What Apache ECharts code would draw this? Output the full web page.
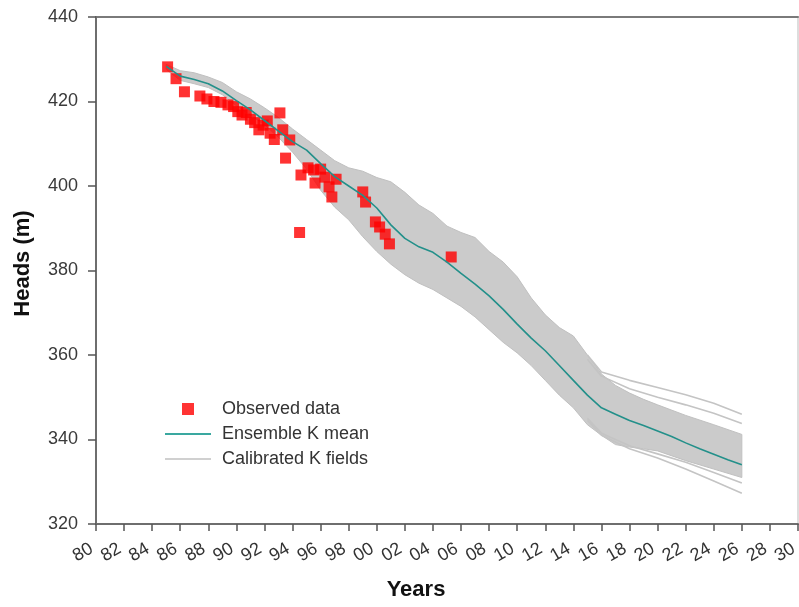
<!DOCTYPE html>
<html>
<head>
<meta charset="utf-8">
<title>Heads</title>
<script src="https://cdn.jsdelivr.net/npm/echarts@6/dist/echarts.min.js"></script>
<style>
  html, body { margin: 0; padding: 0; background: #fff; }
  #chart { width: 799px; height: 607px; }
</style>
</head>
<body>
<div id="chart"></div>
<script>
// x tick labels, 1980..2030 every 2 years
const xTickLabels = ["80", "82", "84", "86", "88", "90", "92", "94", "96", "98", "00", "02", "04",
  "06", "08", "10", "12", "14", "16", "18", "20", "22", "24", "26", "28", "30"];

// observed heads (red squares)
const obsYears = [1985.1, 1985.7, 1986.3, 1987.4, 1987.9, 1988.4, 1988.9, 1989.4, 1989.8, 1990.1,
  1990.4, 1990.7, 1991.0, 1991.3, 1991.6, 1991.9, 1992.2, 1992.4, 1992.7, 1993.1,
  1993.3, 1993.5, 1993.8, 1994.6, 1994.5, 1995.1, 1995.5, 1995.6, 1996.0, 1996.3,
  1996.6, 1996.8, 1997.1, 1999.0, 1999.2, 1999.9, 2000.2, 2000.6, 2000.9, 2005.3];
const obsHeads = [428.2, 425.4, 422.3, 421.3, 420.6, 420.0, 419.8, 419.2, 418.8, 417.6,
  416.8, 417.4, 415.8, 415.0, 413.3, 414.4, 415.4, 412.5, 411.0, 417.3,
  413.3, 406.6, 410.9, 402.6, 389.0, 404.3, 403.8, 400.7, 404.0, 402.1,
  399.8, 397.4, 401.6, 398.6, 396.2, 391.5, 390.3, 388.6, 386.3, 383.2];

// ensemble K mean
const meanYears = [1985, 1986, 1987, 1988, 1989, 1990, 1991, 1992, 1993, 1994, 1995, 1996, 1997, 1998,
  1999, 2000, 2001, 2002, 2003, 2004, 2005, 2006, 2007, 2008, 2009, 2010, 2011, 2012,
  2013, 2014, 2015, 2016, 2017, 2018, 2019, 2020, 2021, 2022, 2023, 2024, 2025, 2026];
const meanHeads = [428.3, 426.0, 425.2, 424.2, 422.5, 420.2, 418.0, 415.5, 413.0, 410.5, 408.5, 405.3, 402.2, 400.0,
  397.8, 394.8, 390.8, 387.6, 385.6, 384.3, 382.0, 379.3, 376.8, 374.0, 370.8, 367.3, 364.0, 361.0,
  357.5, 354.0, 350.5, 347.5, 346.0, 344.5, 343.3, 342.0, 340.7, 339.2, 337.8, 336.5, 335.2, 334.0];

// envelope of the dense bundle of calibrated K fields
const bandYears = [1985, 1986, 1987, 1988, 1989, 1990, 1991, 1992, 1993, 1994, 1995, 1996, 1997, 1998,
  1999, 2000, 2001, 2002, 2003, 2004, 2005, 2006, 2007, 2008, 2009, 2010, 2011, 2012,
  2013, 2014, 2015, 2016, 2017, 2018, 2019, 2020, 2022, 2024, 2026];
const bandTop = [428.8, 427.3, 426.8, 425.8, 424.5, 422.3, 420.6, 418.5, 416.2, 413.5, 411.0, 408.5, 406.0, 404.3,
  403.5, 402.0, 401.0, 398.5, 395.5, 393.5, 390.5, 389.0, 387.8, 384.5, 382.0, 378.5, 373.5, 369.5,
  366.5, 364.5, 360.0, 355.5, 352.8, 351.0, 349.5, 348.2, 345.7, 343.5, 341.2];
const bandBottom = [427.6, 425.0, 424.2, 423.3, 421.6, 419.0, 416.8, 414.5, 411.5, 408.0, 404.0, 399.0, 395.0, 392.0,
  388.0, 384.5, 381.5, 379.0, 377.0, 375.5, 373.5, 371.5, 369.0, 366.0, 363.0, 360.5, 357.5, 354.0,
  350.5, 347.5, 343.5, 341.0, 338.8, 338.2, 337.8, 337.3, 335.0, 333.0, 331.0];

// single calibrated fields that leave the bundle
const fieldYears = [2015, 2016, 2018, 2020, 2022, 2024, 2026];
const fieldUpperA = [360.0, 356.0, 354.0, 352.3, 350.6, 348.6, 346.0];
const fieldUpperB = [359.0, 355.0, 352.0, 350.0, 348.2, 346.2, 343.8];
const fieldLowerA = [344.5, 341.0, 337.8, 335.6, 333.0, 330.2, 327.3];
const fieldLowerB = [345.0, 341.5, 338.5, 336.6, 334.6, 332.2, 329.7];

const font = "Liberation Sans";
const pairs = (xs, ys) => xs.map((x, i) => [x, ys[i]]);

const chart = echarts.init(document.getElementById("chart"));

const fieldLine = (vals) => ({
  name: "Calibrated K fields",
  type: "line",
  data: pairs(fieldYears, vals),
  symbol: "none",
  silent: true,
  lineStyle: { color: "#c4c4c4", width: 1.6 },
});

// the bundle: one polygon, top edge forward then bottom edge back
const renderBand = (params, api) => {
  if (params.dataIndex !== 0) return null;
  const pts = [];
  bandYears.forEach((y, i) => pts.push(api.coord([y, bandTop[i]])));
  for (let i = bandYears.length - 1; i >= 0; i--) {
    pts.push(api.coord([bandYears[i], bandBottom[i]]));
  }
  return {
    type: "polygon",
    shape: { points: pts },
    style: { fill: "#cbcbcb", stroke: "#c0c0c0", lineWidth: 1 },
  };
};

chart.setOption({
  animation: false,
  backgroundColor: "#fff",
  grid: { left: 96, right: 1, top: 17, bottom: 83, outerBoundsMode: "none" },
  legend: {
    orient: "vertical",
    left: 160,
    top: 395,
    itemWidth: 46,
    itemHeight: 12,
    itemGap: 7,
    selectedMode: false,
    textStyle: { fontFamily: font, fontSize: 18, color: "#333", padding: [0, 0, 0, 6] },
    data: [
      { name: "Observed data", icon: "path://M0,0L12,0L12,12L0,12Z", itemStyle: { color: "#ff0000", borderWidth: 0 } },
      { name: "Ensemble K mean", icon: "path://M0,0L46,0L46,2L0,2Z", itemStyle: { color: "#3aa8a0", borderWidth: 0 } },
      { name: "Calibrated K fields", icon: "path://M0,0L46,0L46,2L0,2Z", itemStyle: { color: "#d0d0d0", borderWidth: 0 } },
    ],
  },
  xAxis: [
    {
      type: "value",
      min: 1980,
      max: 2030,
      interval: 2,
      z: 5,
      name: "Years",
      nameLocation: "middle",
      nameGap: 55,
      nameTextStyle: { fontFamily: font, fontSize: 22, fontWeight: "bold", color: "#111", padding: [0, 62, 0, 0] },
      axisLine: { lineStyle: { color: "#6e6e6e", width: 2 } },
      axisTick: { length: 7, lineStyle: { color: "#555", width: 1.5 } },
      axisLabel: {
        rotate: 30,
        margin: 21,
        padding: [0, 5, 0, 0],
        fontFamily: font,
        fontSize: 18,
        color: "#333",
        formatter: (v) => xTickLabels[Math.round((v - 1980) / 2)],
      },
      splitLine: { show: false },
    },
    {
      type: "value",
      position: "top",
      min: 1980,
      max: 2030,
      axisLine: { lineStyle: { color: "#7a7a7a", width: 2 } },
      axisTick: { show: false },
      axisLabel: { show: false },
      splitLine: { show: false },
    },
  ],
  yAxis: [
    {
      type: "value",
      min: 320,
      max: 440,
      interval: 20,
      z: 5,
      name: "Heads (m)",
      nameLocation: "middle",
      nameGap: 62,
      nameTextStyle: { fontFamily: font, fontSize: 22, fontWeight: "bold", color: "#111", padding: [0, 0, 0, 14] },
      axisLine: { show: true, lineStyle: { color: "#6e6e6e", width: 2 } },
      axisTick: { show: true, length: 8, lineStyle: { color: "#555", width: 1.5 } },
      axisLabel: { margin: 18, fontFamily: font, fontSize: 18, color: "#3a3a3a" },
      splitLine: { show: false },
    },
    {
      type: "value",
      position: "right",
      min: 320,
      max: 440,
      axisLine: { show: true, lineStyle: { color: "#d2d2d2", width: 1.5 } },
      axisTick: { show: false },
      axisLabel: { show: false },
      splitLine: { show: false },
    },
  ],
  series: [
    {
      name: "Calibrated K fields",
      type: "custom",
      renderItem: renderBand,
      data: bandYears.map((y, i) => [y, bandTop[i], bandBottom[i]]),
      encode: { x: 0, y: [1, 2] },
      silent: true,
    },
    fieldLine(fieldUpperA),
    fieldLine(fieldUpperB),
    fieldLine(fieldLowerA),
    fieldLine(fieldLowerB),
    {
      name: "Observed data",
      type: "scatter",
      data: pairs(obsYears, obsHeads),
      symbol: "rect",
      symbolSize: 11,
      itemStyle: { color: "#ff0000" },
    },
    {
      name: "Ensemble K mean",
      type: "line",
      data: pairs(meanYears, meanHeads),
      symbol: "none",
      lineStyle: { color: "#23908a", width: 1.6 },
    },
  ],
});
</script>
</body>
</html>
